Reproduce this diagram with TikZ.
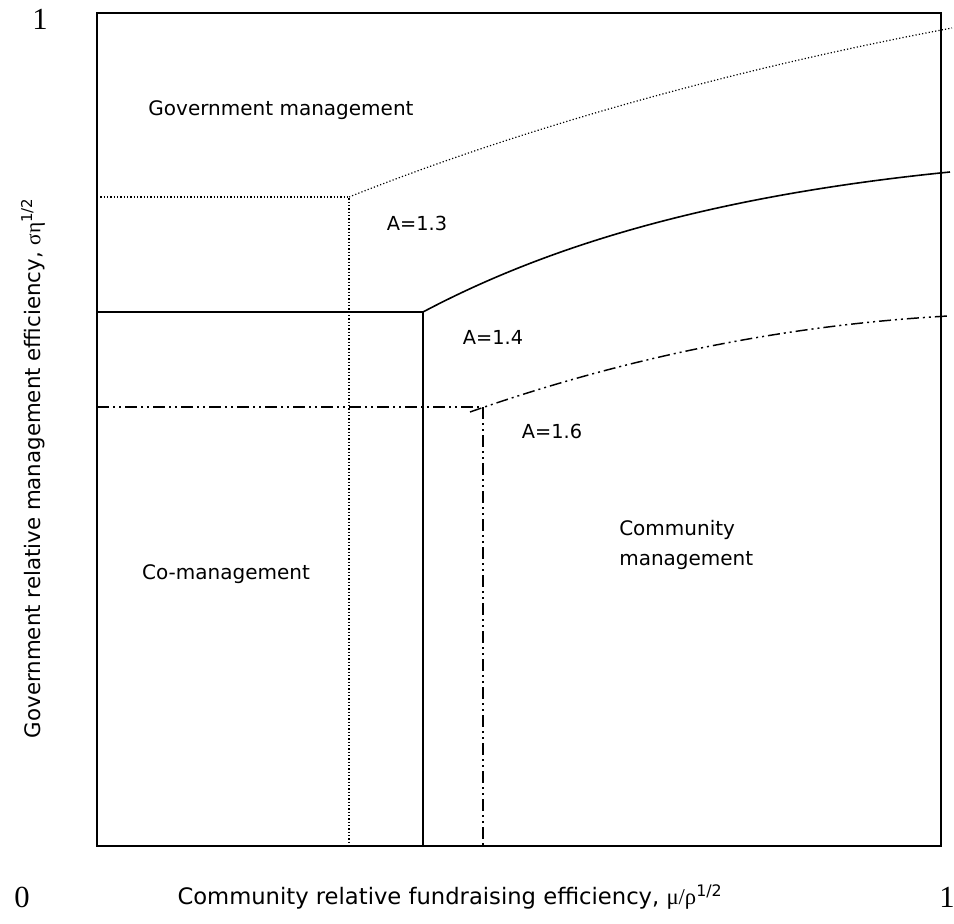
\documentclass[tikz,border=0pt]{standalone}
\usepackage{fontspec}
\setmainfont{DejaVu Sans}
\newfontfamily\serifnum{Liberation Serif}
\begin{document}
\begin{tikzpicture}[x=0.75pt,y=-0.75pt,
  lbl/.style={font=\fontsize{15}{22.5}\selectfont, inner sep=0pt},
  albl/.style={font=\fontsize{14.5}{17}\selectfont, inner sep=0pt},
  axt/.style={font=\fontsize{16}{18}\selectfont, inner sep=0pt},
  axtx/.style={font=\fontsize{17}{19}\selectfont, inner sep=0pt},
  axnum/.style={font=\serifnum\fontsize{23}{25}\selectfont, inner sep=0pt},
  frame/.style={line width=1.5pt},
  solidb/.style={line width=1.2pt},
  dotb/.style={line width=0.9pt, dash pattern=on 0.9pt off 1.6pt},
  ddotb/.style={line width=1.1pt, dash pattern=on 9pt off 3pt on 1.5pt off 3pt on 1.5pt off 3pt}]
\useasboundingbox (0,0) rectangle (954,924);
% frame
\draw[frame] (97,13) rectangle (941,846);
% coordinates
\coordinate (dL) at (97,197); \coordinate (dC) at (349,197); \coordinate (dB) at (349,846); \coordinate (dE) at (952,28);
\coordinate (sL) at (97,312); \coordinate (sC) at (423,312); \coordinate (sB) at (423,846); \coordinate (sE) at (950,172);
\coordinate (hL) at (97,407); \coordinate (hC) at (483,407); \coordinate (hB) at (483,846); \coordinate (hS) at (470,412); \coordinate (hE) at (948,316);
% dotted boundary (A=1.3)
\draw[dotb] (dL) -- (dC) -- (dB);
\draw[dotb] (dC) .. controls (530,125) and (740,68) .. (dE);
% solid boundary (A=1.4)
\draw[solidb] (sL) -- (sC) -- (sB);
\draw[solidb] (sC) .. controls (540,250) and (700,197) .. (sE);
% dash-dot-dot boundary (A=1.6)
\draw[ddotb] (hL) -- (hC);
\draw[ddotb] (hC) -- (hB);
\draw[ddotb] (hS) .. controls (630,356) and (788,325) .. (hE);
% labels
\node[lbl] (gov) at (281,110) {Government management};
\node[albl] (a13) at (417,223) {A=1.3};
\node[albl] (a14) at (493,337) {A=1.4};
\node[albl] (a16) at (552,431) {A=1.6};
\node[lbl, align=left, anchor=west] (comm) at (619,545) {Community\\management};
\node[lbl] (co) at (226,574) {Co-management};
% axes
\node[axnum] (one) at (40,19) {1};
\node[axnum] (zero) at (22,897) {0};
\node[axnum] (onex) at (947,897) {1};
\node[axtx] (xt) at (450,897) {Community relative fundraising efficiency, {\serifnum μ/ρ}\textsuperscript{1/2}};
\node[axt, rotate=90] (yt) at (33,468) {Government relative management efficiency, {\serifnum ση}\textsuperscript{1/2}};
\end{tikzpicture}
\end{document}
